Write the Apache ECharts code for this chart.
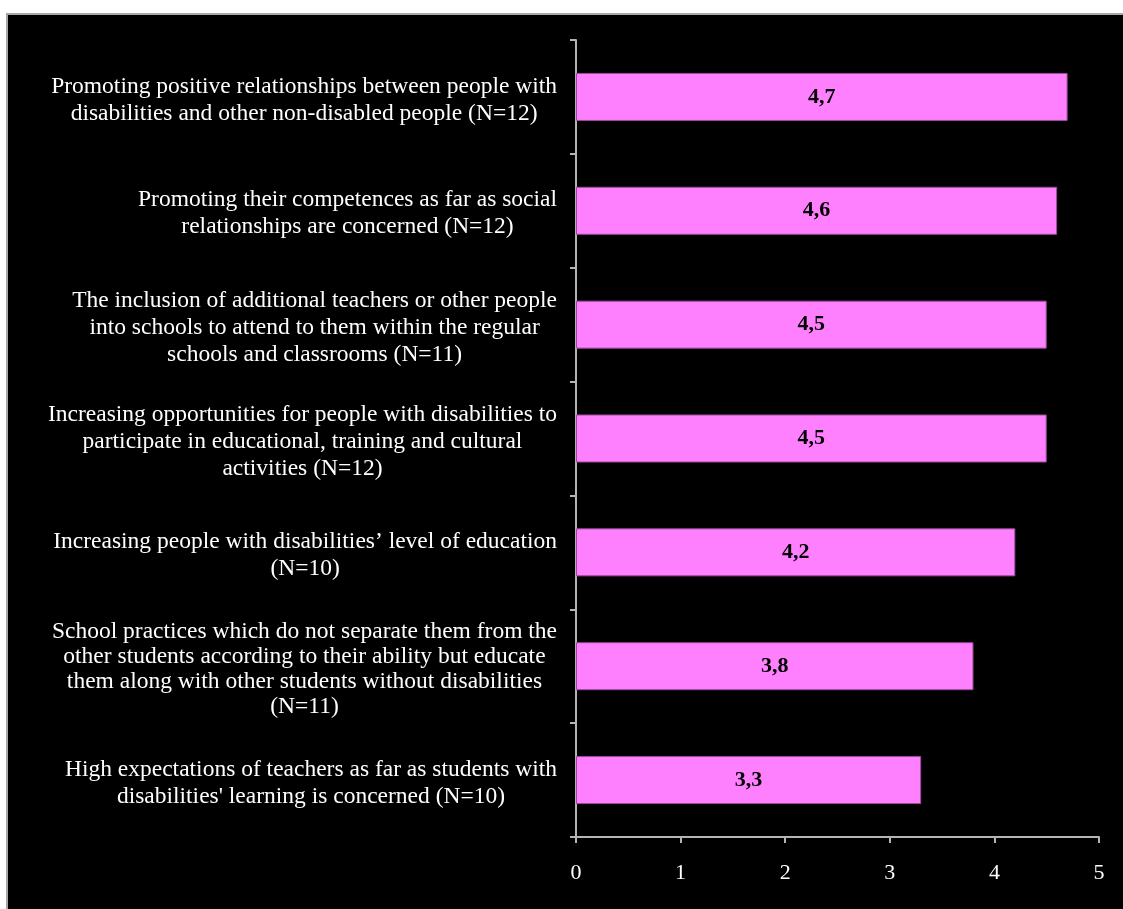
<!DOCTYPE html>
<html>
<head>
<meta charset="utf-8">
<script src="https://cdn.jsdelivr.net/npm/echarts@6/dist/echarts.min.js"></script>
<style>
  html, body { margin: 0; padding: 0; background: #ffffff; }
  #frame {
    position: absolute; left: 6px; top: 13px;
    width: 1117px; height: 896px;
    border-top: 2px solid #a8a8a8; border-left: 2px solid #a8a8a8;
    box-sizing: border-box; background: #000000;
  }
  #chart { width: 1115px; height: 894px; }
</style>
</head>
<body>
<div id="frame"><div id="chart"></div></div>
<script>
// Statements, top to bottom
const categories = [
  'Promoting positive relationships between people with\ndisabilities and other non-disabled people (N=12)',
  'Promoting their competences as far as social\nrelationships are concerned (N=12)',
  'The inclusion of additional teachers or other people\ninto schools to attend to them within the regular\nschools and classrooms (N=11)',
  'Increasing opportunities for people with disabilities to\nparticipate in educational, training and cultural\nactivities (N=12)',
  'Increasing people with disabilities\u2019 level of education\n(N=10)',
  'School practices which do not separate them from the\nother students according to their ability but educate\nthem along with other students without disabilities\n(N=11)',
  'High expectations of teachers as far as students with\ndisabilities\' learning is concerned (N=10)'
];

// Mean rating for each statement
const meanScores = [4.7, 4.6, 4.5, 4.5, 4.2, 3.8, 3.3];

// Value axis range
const axisMin = 0;
const axisMax = 5;
const axisStep = 1;

const serif = '"Liberation Serif", "Times New Roman", serif';
const axisGray = '#b4b4b4';

const chart = echarts.init(document.getElementById('chart'));

chart.setOption({
  backgroundColor: '#000000',
  animation: false,
  grid: { left: 568, right: 24, top: 25, bottom: 72 },
  xAxis: {
    type: 'value',
    min: axisMin,
    max: axisMax,
    interval: axisStep,
    splitLine: { show: false },
    axisLine: { show: true, lineStyle: { color: axisGray, width: 2 } },
    axisTick: { show: true, length: 6, lineStyle: { color: axisGray, width: 2 } },
    axisLabel: { color: '#ffffff', fontFamily: serif, fontSize: 22, margin: 25 }
  },
  yAxis: {
    type: 'category',
    inverse: true,
    data: categories,
    axisLine: { show: true, lineStyle: { color: axisGray, width: 2 } },
    axisTick: { show: true, length: 6, lineStyle: { color: axisGray, width: 2 } },
    axisLabel: {
      margin: 19,
      padding: [6, 0, 0, 0],
      formatter: function (v) {
        const style = v.split('\n').length > 3 ? 'tight' : 'wide';
        return v.split('\n').map(l => '{' + style + '|' + l + '}').join('\n');
      },
      rich: {
        wide: { color: '#ffffff', fontFamily: serif, fontSize: 23.5, lineHeight: 27, align: 'center' },
        tight: { color: '#ffffff', fontFamily: serif, fontSize: 23.5, lineHeight: 25, align: 'center' }
      }
    }
  },
  series: [{
    type: 'bar',
    data: meanScores,
    barWidth: 48,
    itemStyle: { color: '#ff80ff', borderColor: '#9a4a9a', borderWidth: 1 },
    label: {
      show: true,
      position: 'inside',
      color: '#000000',
      fontFamily: serif,
      fontWeight: 'bold',
      fontSize: 22,
      formatter: p => String(p.value).replace('.', ',')
    }
  }]
});
</script>
</body>
</html>
